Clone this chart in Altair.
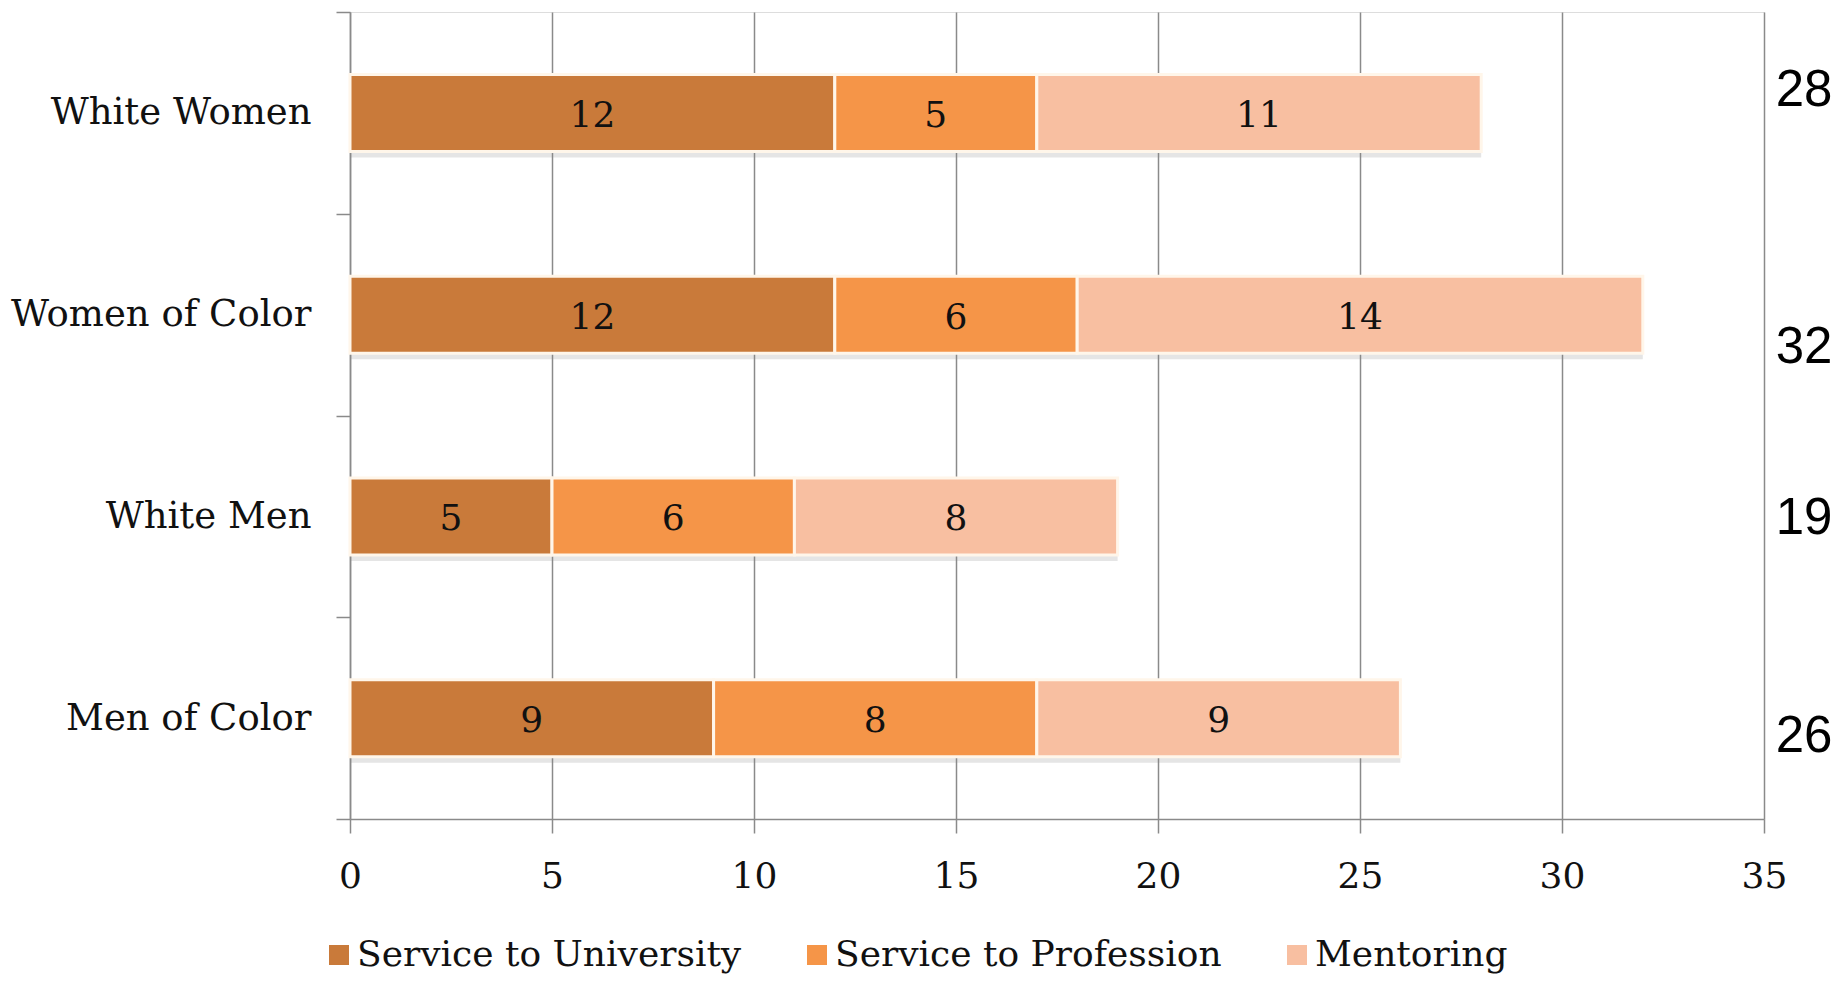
import altair as alt
import pandas as pd

# ---- data ----
groups = ["White Women", "Women of Color", "White Men", "Men of Color"]
series = ["Service to University", "Service to Profession", "Mentoring"]
service_university = [12, 12, 5, 9]
service_profession = [5, 6, 6, 8]
mentoring = [11, 14, 8, 9]
x_ticks = [0, 5, 10, 15, 20, 25, 30, 35]

rows = []
for gi, g in enumerate(groups):
    for si, (s, vals) in enumerate(zip(series, [service_university, service_profession, mentoring])):
        rows.append({"group": g, "series": s, "order": si, "value": vals[gi]})
df = pd.DataFrame(rows)

# ---- styling ----
W, H = 1414, 807
colors = ["#C97A3A", "#F59548", "#F8BFA1"]
serif = "DejaVu Serif"
sans = "Liberation Sans"
grey = "#8a8a8a"
BAR = 77

yscale = alt.Scale(domain=groups, paddingInner=0, paddingOuter=0)
y_axis = alt.Axis(
    title=None, tickBand="extent", grid=False,
    domainColor=grey, domainWidth=1.5, tickColor=grey, tickWidth=1.5, tickSize=14,
    labelFont=serif, labelFontSize=37, labelColor="#111111", labelPadding=25, labelLimit=0,
)
x_axis = alt.Axis(
    title=None, values=x_ticks, grid=True, gridColor=grey, gridWidth=1.5,
    domainColor=grey, domainWidth=1.5, tickColor=grey, tickWidth=1.5, tickSize=14,
    labelFont=serif, labelFontSize=36, labelColor="#111111", labelPadding=26,
    labelFlush=False,
)
xscale = alt.Scale(domain=[0, 35], nice=False)

base = alt.Chart(df)

stacked = base.transform_stack(
    stack="value", groupby=["group"], as_=["v0", "v1"], sort=[alt.SortField("order")]
).transform_calculate(mid="(datum.v0 + datum.v1) / 2")

shadow = base.transform_aggregate(total="sum(value)", groupby=["group"]).mark_bar(
    color="#8a8a8a", opacity=0.22, yOffset=6, size=BAR
).encode(
    y=alt.Y("group:N", sort=groups, scale=yscale, axis=y_axis),
    x=alt.X("total:Q", scale=xscale, axis=x_axis),
)

bars = stacked.mark_bar(size=BAR, stroke="#fff6ea", strokeWidth=3).encode(
    y=alt.Y("group:N", sort=groups, scale=yscale),
    x=alt.X("v0:Q", scale=xscale),
    x2="v1:Q",
    color=alt.Color(
        "series:N", sort=series,
        scale=alt.Scale(domain=series, range=colors),
        legend=alt.Legend(
            orient="none", legendX=-29, legendY=925, direction="horizontal", title=None,
            symbolType="square", symbolSize=400, symbolStrokeWidth=0,
            labelFont=serif, labelFontSize=36, labelColor="#111111",
            labelOffset=0, columnPadding=57, labelLimit=0,
        ),
    ),
)

labels = stacked.mark_text(font=serif, fontSize=36, color="#111111", baseline="middle", dy=3).encode(
    y=alt.Y("group:N", sort=groups, scale=yscale),
    x=alt.X("mid:Q", scale=xscale),
    text="value:Q",
)

# totals at the right, as placed in the reference
total_dy = {"White Women": -22, "Women of Color": 33, "White Men": 3, "Men of Color": 19}
totals = []
for g in groups:
    totals.append(
        base.transform_filter(alt.datum.group == g)
        .transform_aggregate(total="sum(value)", groupby=["group"])
        .mark_text(font=sans, fontSize=51, color="#000000", align="center",
                   baseline="middle", dy=total_dy[g])
        .encode(y=alt.Y("group:N", sort=groups, scale=yscale), x=alt.value(1454), text="total:Q")
    )

chart = alt.layer(shadow, bars, labels, *totals).properties(
    width=W, height=H,
    autosize=alt.AutoSizeParams(type="none"),
    padding={"left": 342, "top": 4, "right": 71, "bottom": 157},
).configure_view(stroke=None).configure(background="white")

chart.save("out.html", embed_options={"renderer": "svg", "actions": False})
